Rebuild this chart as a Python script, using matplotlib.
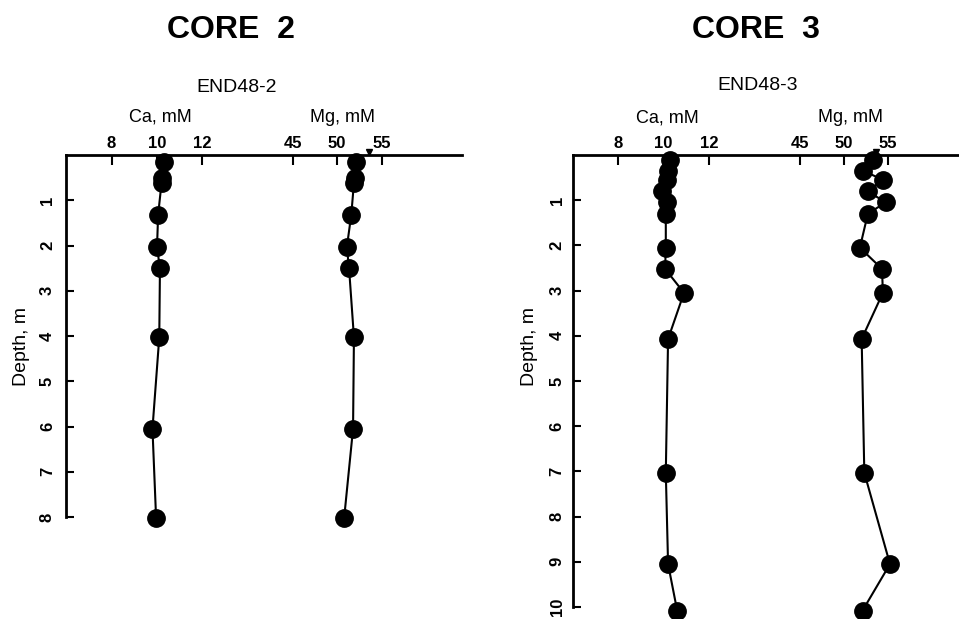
import numpy as np
import matplotlib
matplotlib.use("Agg")
import matplotlib.pyplot as plt

plt.rcParams['font.family'] = ['Liberation Sans', 'DejaVu Sans']

# core 2 (END48-2)
depth_c2 = [0.15, 0.5, 0.62, 1.32, 2.04, 2.5, 4.03, 6.05, 8.02]
ca_c2 = [10.3, 10.2, 10.2, 10.05, 10.0, 10.13, 10.1, 9.8, 9.96]
mg_c2 = [52.1, 52.0, 51.9, 51.6, 51.1, 51.35, 51.9, 51.8, 50.8]

# core 3 (END48-3)
depth_c3 = [0.1, 0.35, 0.55, 0.8, 1.05, 1.3, 2.05, 2.52, 3.05, 4.07, 7.03, 9.05, 10.08]
ca_c3 = [10.3, 10.2, 10.15, 9.95, 10.15, 10.1, 10.1, 10.07, 10.9, 10.2, 10.1, 10.2, 10.6]
mg_c3 = [53.3, 52.2, 54.4, 52.7, 54.7, 52.7, 51.8, 54.3, 54.4, 52.0, 52.3, 55.2, 52.1]

seawater_mg = 53.6
ca_ticks = [8, 10, 12]
mg_ticks = [45, 50, 55]

W, H = 959, 619
fig = plt.figure(figsize=(W / 100, H / 100), dpi=100)


def px(x0, y0, x1, y1):
    return [x0 / W, 1 - y1 / H, (x1 - x0) / W, (y1 - y0) / H]


def core_panel(rect, depth, ca, mg, dmax, ca_lim, mg_lim, ypad):
    ax = fig.add_axes(rect)
    ax2 = ax.twiny()
    for a in (ax, ax2):
        for s in ('right', 'bottom'):
            a.spines[s].set_visible(False)
    ax2.spines['left'].set_visible(False)
    ax2.spines['top'].set_visible(False)
    ax.spines['left'].set_linewidth(2.0)
    ax.spines['top'].set_linewidth(2.0)

    ax.set_ylim(dmax, 0)
    ax.set_xlim(*ca_lim)
    ax2.set_xlim(*mg_lim)

    ax.xaxis.tick_top()
    ax.set_xticks(ca_ticks)
    ax.set_xticklabels([str(t) for t in ca_ticks], fontweight='bold')
    ax2.set_xticks(mg_ticks)
    ax2.set_xticklabels([str(t) for t in mg_ticks], fontweight='bold')
    for a in (ax, ax2):
        a.tick_params(axis='x', direction='in', length=7, width=1.5,
                      labelsize=12, pad=3, top=True, bottom=False,
                      labeltop=True, labelbottom=False)

    yt = list(range(1, dmax + 1))
    ax.set_yticks(yt)
    ax.set_yticklabels([str(t) for t in yt], rotation=90, va='center',
                       fontweight='bold')
    ax.tick_params(axis='y', direction='in', length=6, width=1.5,
                   labelsize=12, pad=ypad)

    ax.plot(ca, depth, color='black', lw=1.5, marker='o', ms=12.5,
            clip_on=False, zorder=5)
    ax2.plot(mg, depth, color='black', lw=1.5, marker='o', ms=12.5,
             clip_on=False, zorder=5)
    ax2.plot([seawater_mg], [-0.06], marker='v', color='black', ms=5,
             clip_on=False, zorder=6)
    return ax


core_panel(px(66, 155, 462, 517), depth_c2, ca_c2, mg_c2, 8,
           (5.99, 23.44), (19.55, 64.04), 8)
core_panel(px(573, 155, 959, 607), depth_c3, ca_c3, mg_c3, 10,
           (6.02, 22.99), (19.38, 63.0), 6)

def t(x, y, s, **kw):
    fig.text(x / W, 1 - y / H, s, ha='center', va='center', **kw)

t(231, 30, 'CORE  2', fontsize=23, fontweight='bold')
t(756, 30, 'CORE  3', fontsize=23, fontweight='bold')
t(237, 87, 'END48-2', fontsize=14)
t(758, 86, 'END48-3', fontsize=14)
t(160, 117, 'Ca, mM', fontsize=13)
t(342, 117, 'Mg, mM', fontsize=13)
t(667, 118, 'Ca, mM', fontsize=13)
t(850, 118, 'Mg, mM', fontsize=13)
t(22, 347, 'Depth, m', fontsize=14, rotation=90)
t(530, 347, 'Depth, m', fontsize=14, rotation=90)

fig.savefig('out.png', dpi=100)
